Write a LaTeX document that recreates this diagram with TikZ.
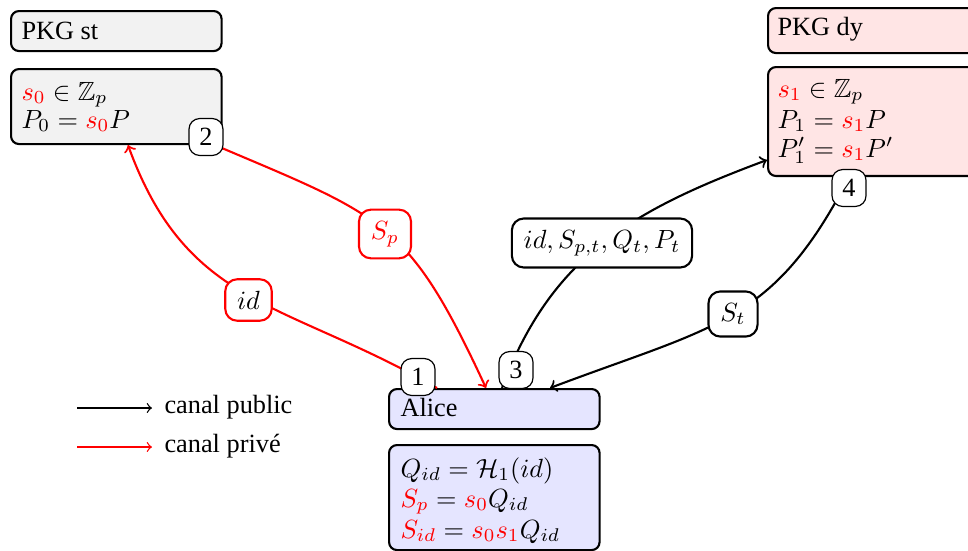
\documentclass[tikz,border=0pt]{standalone}
\usepackage{amsmath,amssymb}
\usepackage[no-math]{fontspec}
\setmainfont{Liberation Serif}
\usetikzlibrary{calc}
\begin{document}
\begin{tikzpicture}[x=0.38pt,y=-0.38pt,
  kbox/.style={draw, thick, rounded corners=3pt, minimum width=80pt, anchor=north west, inner sep=0pt},
  gkbox/.style={kbox, fill=gray!10},
  pkbox/.style={kbox, fill=red!10},
  akbox/.style={kbox, fill=blue!10},
  txt/.style={anchor=base west, inner sep=0pt},
  num/.style={draw, fill=white, rounded corners=4pt, line width=0.45pt, minimum width=12.9pt, minimum height=14pt, inner sep=0pt},
  lab/.style={draw, fill=white, thick, rounded corners=4.5pt, inner xsep=4.5pt, inner ysep=4.4pt},
  rlab/.style={lab, draw=red},
  conn/.style={thick, ->},
  rconn/.style={conn, red}]
\useasboundingbox (0,0) rectangle (968,551);
\clip (0,0) rectangle (968,551);

% boxes
\node[gkbox, minimum height=15.2pt] (sttitle) at (10,10) {};
\node[gkbox, minimum height=28.5pt] (stdata) at (10,68) {};
\node[pkbox, minimum height=17.1pt] (dytitle) at (767,7) {};
\node[pkbox, minimum height=41.4pt] (dydata) at (767,66) {};
\node[akbox, minimum height=15.2pt] (alicet) at (388,388) {};
\node[akbox, minimum height=39.9pt] (aliced) at (388,444) {};

% texts
\node[txt] (st0) at (21,39) {PKG st};
\node[txt] (st1) at (21,100) {$\textcolor{red}{s_0} \in \mathbb{Z}_p$};
\node[txt] (st2) at (21,128) {$P_0 = \textcolor{red}{s_0}P$};
\node[txt] (dy0) at (777,35) {PKG dy};
\node[txt] (dy1) at (777,97) {$\textcolor{red}{s_1} \in \mathbb{Z}_p$};
\node[txt] (dy2) at (777,128) {$P_1 = \textcolor{red}{s_1}P$};
\node[txt] (dy3) at (777,157) {$P_1' = \textcolor{red}{s_1}P'$};
\node[txt] (al0) at (400,416) {Alice};
\node[txt] (al1) at (400,477) {$Q_{id} = \mathcal{H}_1(id)$};
\node[txt] (al2) at (400,507) {$\textcolor{red}{S_p} = \textcolor{red}{s_0}Q_{id}$};
\node[txt] (al3) at (400,538) {$\textcolor{red}{S_{id}} = \textcolor{red}{s_0s_1}Q_{id}$};

% connectors
\draw[rconn] ($(alicet.north west)+(49,0)$) .. controls (285,300.5) and (187.5,308.5) .. ($(stdata.south west)+(118,0)$);
\draw[rconn] ($(stdata.south west)+(205,0)$) .. controls (384,217) and (408,220) .. ($(alicet.north west)+(98,0)$);
\draw[conn] ($(alicet.north west)+(114,0)$) .. controls (551.3,255.6) and (633.7,209.6) .. ($(dydata.north west)+(0,94)$);
\draw[conn] ($(dydata.south west)+(82,0)$) .. controls (773.8,323.8) and (714.6,325.7) .. ($(alicet.north west)+(162,0)$);

% labels
\node[rlab] (lid) at (248.5,300) {$id$};
\node[rlab, text=red] (lsp) at (385,234) {$S_p$};
\node[lab] (lq) at (602,243) {$id, S_{p,t}, Q_t, P_t$};
\node[lab] (lst) at (733,314) {$S_t$};

% step numbers
\node[num] (n1) at (418,377) {1};
\node[num] (n2) at (206,137) {2};
\node[num] (n3) at (516,370) {3};
\node[num] (n4) at (849,188) {4};

% legend
\coordinate (lg1a) at (77,408);
\coordinate (lg1b) at (152,408);
\coordinate (lg2a) at (77,447);
\coordinate (lg2b) at (152,447);
\draw[->, line width=0.5pt] (lg1a) -- (lg1b);
\draw[->, line width=0.5pt, red] (lg2a) -- (lg2b);
\node[txt] (lgt1) at (164,413) {canal public};
\node[txt] (lgt2) at (164,452) {canal privé};
\end{tikzpicture}
\end{document}
